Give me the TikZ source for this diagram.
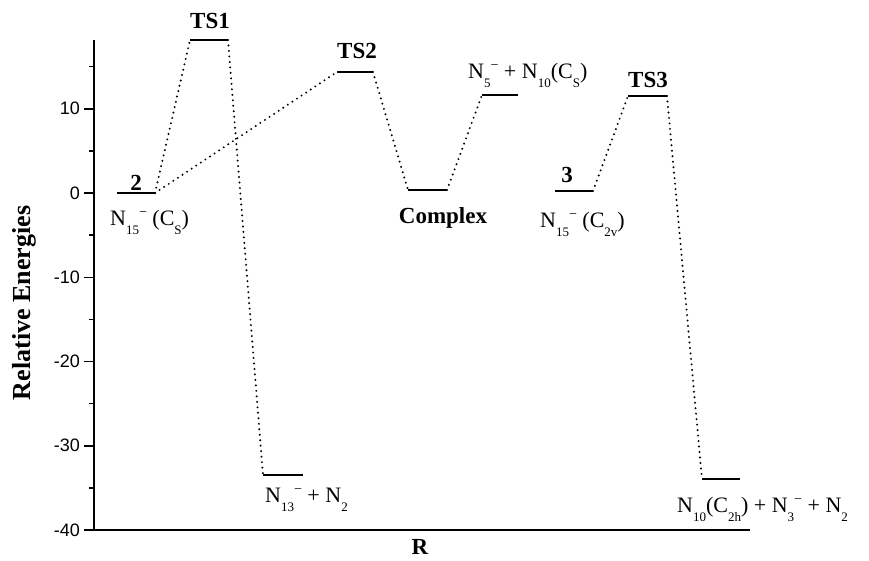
\documentclass[tikz,border=0pt]{standalone}
\usepackage{fontspec}
\setmainfont{Liberation Serif}
\newfontfamily\tickfont{Liberation Sans}
\newcommand\sbs[1]{\raisebox{-0.42em}{\fontsize{13}{13}\selectfont #1}}
\newcommand\sps{\raisebox{0.4em}{\fontsize{14}{14}\selectfont −}}
\begin{document}
\begin{tikzpicture}[x=1pt,y=-1pt,
  level/.style={line width=2.2pt},
  link/.style={line width=2.2pt, dash pattern=on 0pt off 5.5pt, line cap=round},
  axis/.style={line width=1.5pt},
  lab/.style={font=\fontsize{22}{22}\selectfont, inner sep=0pt, anchor=base west},
  blab/.style={font=\bfseries\fontsize{23}{23}\selectfont, inner sep=0pt, anchor=base},
  ticklab/.style={font=\tickfont\fontsize{18}{18}\selectfont, anchor=east, inner sep=0pt}
]
\useasboundingbox (0,0) rectangle (869,560);
% axes
\coordinate (ytop) at (94,40);
\coordinate (orig) at (94,530);
\coordinate (xend) at (750,530);
\draw[axis] (ytop) -- (orig) -- (xend);
\foreach \e in {10,0,-10,-20,-30,-40}{
  \draw[axis] (84,{193-8.425*\e}) -- (94,{193-8.425*\e});
  \node[ticklab] at (80,{193-8.425*\e}) {\e};
}
\foreach \e in {15,5,-5,-15,-25,-35}{
  \draw[axis] (89,{193-8.425*\e}) -- (94,{193-8.425*\e});
}
\node[font=\bfseries\fontsize{26}{26}\selectfont, rotate=90, inner sep=0pt] (ylab) at (24,303) {Relative Energies};
\node[blab] (xlab) at (420,554) {R};
% levels
\coordinate (a2) at (117,193); \coordinate (b2) at (155,193);
\coordinate (aT1) at (190,40); \coordinate (bT1) at (228,40);
\coordinate (aT2) at (337,72); \coordinate (bT2) at (373,72);
\coordinate (aC) at (408,190); \coordinate (bC) at (447,190);
\coordinate (aP5) at (482,95); \coordinate (bP5) at (518,95);
\coordinate (a3) at (555,191); \coordinate (b3) at (593,191);
\coordinate (aT3) at (628,96); \coordinate (bT3) at (667,96);
\coordinate (aP13) at (263,475); \coordinate (bP13) at (303,475);
\coordinate (aP10) at (702,479); \coordinate (bP10) at (740,479);
\foreach \p in {2,T1,T2,C,P5,3,T3,P13,P10}{
  \draw[level] (a\p) -- (b\p);
}
% connectors
\draw[link] (b2) -- (aT1);
\draw[link] (b2) -- (aT2);
\draw[link] (bT1) -- (aP13);
\draw[link] (bT2) -- (aC);
\draw[link] (bC) -- (aP5);
\draw[link] (b3) -- (aT3);
\draw[link] (bT3) -- (aP10);
% labels
\node[blab] (l2) at (136,190) {2};
\node[lab] (n2) at (110,225) {N\sbs{15}\sps\ (C\sbs{S})};
\node[blab] (lT1) at (210,28) {TS1};
\node[blab] (lT2) at (357,58) {TS2};
\node[blab] (lC) at (443,223) {Complex};
\node[lab] (nP5) at (468,78) {N\sbs{5}\sps\ + N\sbs{10}(C\sbs{S})};
\node[blab] (l3) at (567,182) {3};
\node[lab] (n3) at (540,227) {N\sbs{15}\sps\ (C\sbs{2v})};
\node[blab] (lT3) at (648,87) {TS3};
\node[lab] (nP13) at (265,502) {N\sbs{13}\sps\ + N\sbs{2}};
\node[lab] (nP10) at (677,512) {N\sbs{10}(C\sbs{2h}) + N\sbs{3}\sps\ + N\sbs{2}};
\end{tikzpicture}
\end{document}
